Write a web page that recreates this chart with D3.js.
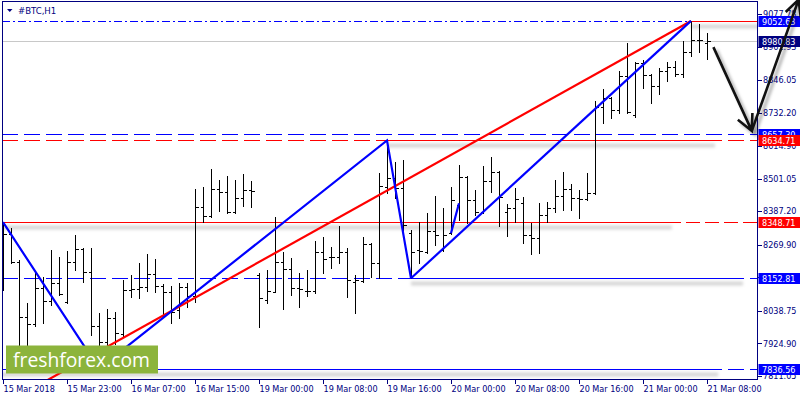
<!DOCTYPE html>
<html>
<head>
<meta charset="utf-8">
<script src="https://cdnjs.cloudflare.com/ajax/libs/d3/7.8.5/d3.min.js"></script>
<style>
html, body { margin: 0; padding: 0; background: #fff; }
svg { display: block; font-family: "DejaVu Sans Condensed", "DejaVu Sans", sans-serif; }
</style>
</head>
<body>
<div id="chart"></div>
<script>
// #BTC H1 bars, 15 Mar 15:00 .. 21 Mar 08:00 (weekend skipped)
const sessions = [["15 Mar", 15, 23], ["16 Mar", 0, 22], ["19 Mar", 0, 23], ["20 Mar", 0, 23], ["21 Mar", 0, 8]];
const firstLabel = "15 Mar 2018";

const opens = [8251.6, 8306.5, 8210.6, 8018.3, 7991.7, 8119.7, 8073.2, 8135.1, 8068.7, 8210.6,
  8254.0, 8173.6, 7985.8, 7929.8, 8013.8, 7957.8, 8111.7, 8115.2, 8123.2, 8166.6,
  8126.7, 8105.7, 8041.7, 8122.2, 8090.7, 8400.9, 8370.4, 8463.8, 8455.4, 8383.4,
  8432.3, 8461.4, 8164.1, 8076.7, 8105.7, 8208.5, 8184.1, 8117.6, 8109.2, 8108.2,
  8243.5, 8228.1, 8227.1, 8243.5, 8140.7, 8144.2, 8272.5, 8205.1, 8472.9, 8502.3,
  8469.4, 8311.0, 8251.6, 8243.5, 8318.0, 8251.6, 8309.9, 8408.9, 8507.9, 8426.4,
  8384.4, 8492.8, 8525.4, 8385.5, 8397.4, 8414.9, 8304.0, 8294.6, 8373.9, 8399.5,
  8440.4, 8463.8, 8433.4, 8431.6, 8449.8, 8750.6, 8782.0, 8741.1, 8860.0, 8723.6,
  8907.2, 8863.5, 8825.1, 8877.5, 8892.6, 8867.0, 8945.0, 8985.9, 8974.4];
const highs = [8348.71, 8329.5, 8216.6, 8066.2, 8170.1, 8158.2, 8251.6, 8228.1, 8248.1, 8304.0,
  8257.5, 8257.5, 8030.2, 8044.2, 8034.7, 8146.6, 8164.1, 8205.1, 8236.5, 8220.1,
  8132.7, 8125.7, 8135.1, 8136.1, 8463.8, 8472.9, 8534.8, 8496.3, 8510.3, 8496.3,
  8517.3, 8493.9, 8170.1, 8181.6, 8368.0, 8245.6, 8222.5, 8172.2, 8181.6, 8283.0,
  8298.1, 8261.0, 8335.5, 8257.5, 8164.1, 8298.1, 8274.3, 8519.8, 8634.71, 8559.3,
  8566.3, 8321.5, 8348.4, 8379.9, 8441.4, 8399.5, 8472.9, 8548.8, 8510.3, 8461.4,
  8546.3, 8575.7, 8527.8, 8412.4, 8467.3, 8435.8, 8347.0, 8414.9, 8420.5, 8496.3,
  8525.4, 8482.4, 8461.4, 8521.9, 8773.7, 8813.5, 8787.6, 8878.6, 8974.4, 8910.0,
  8916.0, 8865.3, 8887.0, 8910.0, 8912.5, 8983.5, 9052.63, 9041.9, 9009.3];
const lows = [8111.7, 8205.1, 7873.9, 7866.9, 7985.8, 7995.2, 8059.2, 8094.2, 8065.2, 8181.6,
  8140.7, 7954.3, 7836.56, 7916.9, 7922.8, 7950.8, 8087.2, 8082.6, 8108.2, 8105.7,
  8017.3, 7995.2, 8012.7, 8050.5, 8070.8, 8350.5, 8368.0, 8389.0, 8379.9, 8382.0,
  8405.4, 8403.0, 7983.3, 8065.2, 8104.7, 8044.2, 8094.2, 8053.3, 8090.7, 8102.2,
  8172.2, 8187.5, 8205.1, 8086.1, 8032.3, 8140.7, 8158.2, 8152.6, 8449.8, 8433.4,
  8315.5, 8152.81, 8205.1, 8241.1, 8269.0, 8248.1, 8307.5, 8356.5, 8344.9, 8373.9,
  8379.9, 8455.4, 8335.5, 8300.5, 8350.5, 8275.0, 8237.6, 8242.1, 8350.5, 8385.5,
  8391.4, 8391.4, 8365.2, 8426.4, 8447.4, 8696.7, 8712.1, 8729.6, 8731.7, 8717.7,
  8817.0, 8766.7, 8797.1, 8843.6, 8860.0, 8856.5, 8930.0, 8945.0, 8918.4];
const closes = [8306.5, 8210.6, 8018.3, 7991.7, 8119.7, 8073.2, 8135.1, 8096.6, 8210.6, 8254.0,
  8173.6, 7985.8, 7928.8, 8013.8, 7961.3, 8111.7, 8115.2, 8123.2, 8166.6, 8126.7,
  8105.7, 8035.8, 8122.2, 8090.7, 8400.9, 8370.4, 8463.8, 8455.4, 8383.4, 8432.3,
  8461.4, 8457.9, 8082.6, 8109.2, 8208.5, 8184.1, 8117.6, 8115.2, 8108.2, 8243.5,
  8220.1, 8227.1, 8243.5, 8146.6, 8146.6, 8272.5, 8205.1, 8475.4, 8502.3, 8469.4,
  8339.0, 8245.6, 8248.1, 8318.0, 8304.0, 8304.0, 8426.4, 8507.9, 8426.4, 8384.4,
  8492.8, 8525.4, 8437.9, 8397.4, 8428.8, 8304.0, 8294.6, 8373.9, 8399.5, 8440.4,
  8463.8, 8433.4, 8431.6, 8449.8, 8750.6, 8782.0, 8741.1, 8860.0, 8735.2, 8907.2,
  8863.5, 8825.1, 8877.5, 8892.6, 8867.0, 8945.0, 8985.9, 8984.2, 8980.83];

const yTicks = [9077.78, 8961.93, 8846.05, 8732.20, 8614.90, 8501.05, 8387.20, 8269.90, 8156.05, 8038.75, 7924.90, 7811.05];
const priceRange = [7799.4, 9118.8];

// price levels drawn on the chart
const levelPrices = [9052.63, 8980.83, 8657.30, 8634.71, 8348.71, 8152.81, 7836.56];
// zigzag: bar index / price of turning points
const zigzagBars = [0, 12, 48, 51];
const zigzagPrices = [8348.71, 7836.56, 8634.71, 8152.81];
const zigzagTailBars = [56, 57];
const zigzagTailPrices = [8309.9, 8414.8];

const BLUE = "#0000ff", RED = "#ff0000", NAVY = "#000080";

const times = [];
sessions.forEach(s => {
  for (let h = s[1]; h <= s[2]; h++) times.push(s[0] + " " + (h < 10 ? "0" + h : h) + ":00");
});
const bars = opens.map((o, i) => ({ i: i, o: o, h: highs[i], l: lows[i], c: closes[i] }));

const plot = { left: 2, top: 1.5, right: 757.5, bottom: 379.5 };

const x = d3.scaleLinear().domain([0, times.length - 1]).range([3, 3 + 8 * (times.length - 1)]);
const y = d3.scaleLinear().domain(priceRange).range([379.3, 2]);
const px = v => Math.round(x(v)) + 0.5;
const py = v => Math.round(y(v)) + 0.5;

const svg = d3.select("#chart").append("svg")
  .attr("width", 800).attr("height", 400);

const defs = svg.append("defs");
defs.append("clipPath").attr("id", "plotclip")
  .append("rect").attr("x", plot.left).attr("y", plot.top)
  .attr("width", plot.right - plot.left).attr("height", plot.bottom - plot.top);
defs.append("filter").attr("id", "blur")
  .attr("filterUnits", "userSpaceOnUse").attr("x", 0).attr("y", 0).attr("width", 800).attr("height", 400)
  .append("feGaussianBlur").attr("stdDeviation", 1.8);

svg.append("rect").attr("width", 800).attr("height", 400).attr("fill", "#fff");

const g = svg.append("g").attr("clip-path", "url(#plotclip)");

// bid line
g.append("line")
  .attr("x1", plot.left).attr("x2", plot.right)
  .attr("y1", py(levelPrices[1])).attr("y2", py(levelPrices[1]))
  .attr("stroke", "#c8c8c8").attr("stroke-width", 1);

// full width horizontal lines
const fullLines = [
  { p: levelPrices[0], color: BLUE, dash: "8,3,2,3" },
  { p: levelPrices[2], color: BLUE, dash: "16,6" },
  { p: levelPrices[3], color: RED, dash: "16,6" },
  { p: levelPrices[4], color: RED, dash: "14,5" },
  { p: levelPrices[5], color: BLUE, dash: "16,6" },
  { p: levelPrices[6], color: BLUE, dash: "16,6" }
];
g.selectAll("line.full").data(fullLines).enter().append("line")
  .attr("class", "full")
  .attr("x1", plot.left).attr("x2", plot.right)
  .attr("y1", d => py(d.p)).attr("y2", d => py(d.p))
  .attr("stroke", d => d.color).attr("stroke-dasharray", d => d.dash)
  .attr("shape-rendering", "crispEdges");

// solid level segments (with soft shadow)
const segments = [
  { p: levelPrices[0], from: 86, to: 96, color: RED },
  { p: levelPrices[3], from: 48, to: 89, color: RED },
  { p: levelPrices[4], from: -1, to: 83.6, color: RED },
  { p: levelPrices[5], from: 51, to: 92.5, color: BLUE },
  { p: levelPrices[6], from: -1, to: 89.4, color: BLUE }
];
g.selectAll("line.shadow").data(segments).enter().append("line")
  .attr("class", "shadow")
  .attr("x1", d => x(d.from)).attr("x2", d => x(d.to))
  .attr("y1", d => py(d.p) + 5).attr("y2", d => py(d.p) + 5)
  .attr("stroke", "#000").attr("stroke-opacity", 0.16).attr("stroke-width", 4)
  .attr("filter", "url(#blur)");
g.selectAll("line.seg").data(segments).enter().append("line")
  .attr("class", "seg")
  .attr("x1", d => x(d.from)).attr("x2", d => x(d.to))
  .attr("y1", d => py(d.p)).attr("y2", d => py(d.p))
  .attr("stroke", d => d.color).attr("shape-rendering", "crispEdges");

// OHLC bars
const bar = g.selectAll("g.bar").data(bars).enter().append("g").attr("class", "bar")
  .attr("stroke", "#000").attr("shape-rendering", "crispEdges");
bar.append("line")
  .attr("x1", d => px(d.i)).attr("x2", d => px(d.i))
  .attr("y1", d => Math.round(y(d.h))).attr("y2", d => Math.round(y(d.l)) + 1);
bar.append("line")
  .attr("x1", d => px(d.i) - 3).attr("x2", d => px(d.i))
  .attr("y1", d => py(d.o)).attr("y2", d => py(d.o));
bar.append("line")
  .attr("x1", d => px(d.i)).attr("x2", d => px(d.i) + 3)
  .attr("y1", d => py(d.c)).attr("y2", d => py(d.c));

// trend lines
const line = d3.line().x(d => x(d[0])).y(d => y(d[1]));
const trends = [
  { pts: [[5, 7788], [86, 9052.63]], color: RED },
  { pts: [[51, 8152.81], [86, 9052.63]], color: BLUE },
  { pts: zigzagBars.map((b, k) => [b, zigzagPrices[k]]), color: BLUE },
  { pts: zigzagTailBars.map((b, k) => [b, zigzagTailPrices[k]]), color: BLUE }
];
g.selectAll("path.trend").data(trends).enter().append("path")
  .attr("class", "trend")
  .attr("d", d => line(d.pts))
  .attr("fill", "none").attr("stroke", d => d.color).attr("stroke-width", 2.2);

// logo
const logo = g.append("g");
logo.append("rect").attr("x", 6).attr("y", 345.5).attr("width", 152).attr("height", 28)
  .attr("fill", "#8cb43c");
logo.append("text").attr("x", 13).attr("y", 366.5)
  .attr("font-family", "'Open Sans', 'Noto Sans', sans-serif").attr("font-size", 20)
  .attr("textLength", 137).attr("lengthAdjust", "spacingAndGlyphs")
  .attr("fill", "#fff").text("freshforex.com");

// frame and axes
svg.append("rect")
  .attr("x", plot.left + 0.5).attr("y", plot.top)
  .attr("width", plot.right - plot.left - 0.5).attr("height", plot.bottom - plot.top)
  .attr("fill", "none").attr("stroke", NAVY).attr("shape-rendering", "crispEdges");

const yAxis = svg.append("g");
yAxis.selectAll("line").data(yTicks).enter().append("line")
  .attr("x1", plot.right).attr("x2", plot.right + 4)
  .attr("y1", d => py(d)).attr("y2", d => py(d))
  .attr("stroke", NAVY).attr("shape-rendering", "crispEdges");
yAxis.selectAll("text").data(yTicks).enter().append("text")
  .attr("x", 763).attr("y", d => y(d)).attr("dy", "0.36em")
  .attr("font-size", 9).attr("fill", NAVY)
  .text(d => d.toFixed(2));

const xTicks = d3.range(0, times.length, 8);
const xAxis = svg.append("g");
xAxis.selectAll("line").data(xTicks).enter().append("line")
  .attr("x1", d => px(d)).attr("x2", d => px(d))
  .attr("y1", plot.bottom).attr("y2", plot.bottom + 4)
  .attr("stroke", NAVY).attr("shape-rendering", "crispEdges");
xAxis.selectAll("text").data(xTicks).enter().append("text")
  .attr("x", d => px(d)).attr("y", 392)
  .attr("font-size", 9).attr("fill", NAVY)
  .text(d => d === 0 ? firstLabel : times[d]);

// level labels on the price scale
const boxes = [
  { p: levelPrices[0], bg: BLUE },
  { p: levelPrices[1], bg: NAVY },
  { p: levelPrices[2], bg: BLUE },
  { p: levelPrices[3], bg: RED },
  { p: levelPrices[4], bg: RED },
  { p: levelPrices[5], bg: BLUE },
  { p: levelPrices[6], bg: BLUE }
];
const box = svg.selectAll("g.box").data(boxes).enter().append("g").attr("class", "box");
box.append("rect")
  .attr("x", plot.right + 1).attr("y", d => Math.round(y(d.p)) - 5)
  .attr("width", 42).attr("height", 11).attr("fill", d => d.bg);
box.append("text")
  .attr("x", 762).attr("y", d => Math.round(y(d.p)) + 0.5).attr("dy", "0.36em")
  .attr("font-size", 9).attr("fill", "#fff")
  .text(d => d.p.toFixed(2));

// forecast arrows
const arrows = [
  [[88.8, 8961], [93.6, 8668]],
  [[93.6, 8668], [99.45, 9127]]
];
function arrowPath(a) {
  const x0 = x(a[0][0]), y0 = y(a[0][1]), x1 = x(a[1][0]), y1 = y(a[1][1]);
  const len = Math.hypot(x1 - x0, y1 - y0), ux = (x1 - x0) / len, uy = (y1 - y0) / len;
  const nx = -uy, ny = ux, hl = 16, hw = 8;
  return "M" + x0 + "," + y0 + "L" + x1 + "," + y1 +
    "M" + (x1 - hl * ux + hw * nx) + "," + (y1 - hl * uy + hw * ny) +
    "L" + x1 + "," + y1 +
    "L" + (x1 - hl * ux - hw * nx) + "," + (y1 - hl * uy - hw * ny);
}
const arr = svg.append("g");
arr.selectAll("path.ash").data(arrows).enter().append("path")
  .attr("class", "ash").attr("d", arrowPath)
  .attr("transform", "translate(3,3)")
  .attr("fill", "none").attr("stroke", "#000").attr("stroke-opacity", 0.3)
  .attr("stroke-width", 3).attr("filter", "url(#blur)");
arr.selectAll("path.arr").data(arrows).enter().append("path")
  .attr("class", "arr").attr("d", arrowPath)
  .attr("fill", "none").attr("stroke", "#111").attr("stroke-width", 2.6)
  .attr("stroke-linejoin", "miter");

// title
svg.append("path").attr("d", "M7,9L12.5,9L9.75,12Z").attr("fill", NAVY);
svg.append("text").attr("x", 18).attr("y", 14)
  .attr("font-size", 9.5).attr("fill", NAVY).text("#BTC,H1");
</script>
</body>
</html>
